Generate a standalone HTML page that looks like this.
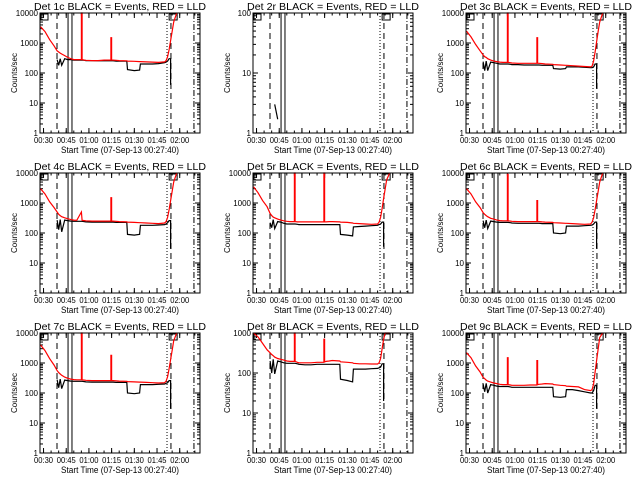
<!DOCTYPE html>
<html><head><meta charset="utf-8"><style>
body{margin:0;background:#fff}
svg{display:block}
text{font-family:"Liberation Sans",sans-serif;fill:#000}
</style></head><body>
<svg id="c" width="640" height="480" viewBox="0 0 640 480" xmlns="http://www.w3.org/2000/svg">
<rect width="640" height="480" fill="#fff"/>
</svg>
<script>
const times=[28,31,34,37,39,40,41,42,44,46,48,50,52,55,55.5,57,58,62,66,70,74.5,75,76,78,80,85,85.5,90,93.5,94,98,102,106,110,111,112,113,114,115,116,118];
const xTickLabels=["00:30","00:45","01:00","01:15","01:30","01:45","02:00"];
const xTickMinutes=[30,45,60,75,90,105,120];
const titles=["Det 1c","Det 2r","Det 3c","Det 4c","Det 5r","Det 6c","Det 7c","Det 8r","Det 9c"];
const decades=[4,2,4,4,4,4,4,3,4];
const vlineDashed1=38.9, vlineSolidA=46.2, vlineSolidB=48.8, vlineDotted=111.6, vlineDashed2=114.2, vlineDashDot=129.4;
const N=null;
const red1=[3500,2400,1300,800,550,500,460,430,380,330,300,280,280,12000,280,270,265,260,260,270,1500,270,270,265,260,255,250,245,240,240,235,230,225,235,260,350,600,1200,2500,5000,12000];
const black1=[N,N,N,N,280,180,300,180,300,280,280,270,270,270,270,265,260,260,255,255,255,255,255,250,250,250,130,120,125,200,200,200,205,220,230,250,300,40,N,N,N];
const red2=[N,N,N,N,N,N,N,N,N,N,N,N,N,N,N,N,N,N,N,N,N,N,N,N,N,N,N,N,N,N,N,N,N,N,N,N,N,N,N,N,N];
const black2=[N,N,N,N,N,N,N,3,1.7,N,N,N,N,N,N,N,N,N,N,N,N,N,N,N,N,N,N,N,N,N,N,N,N,N,N,N,N,N,N,N,N];
const red3=[2500,1600,900,550,400,350,330,300,270,250,240,230,225,12000,225,220,215,210,210,210,1500,210,210,205,200,195,190,185,180,180,175,170,165,160,170,250,500,1100,2500,5000,12000];
const black3=[N,N,N,N,240,120,250,120,230,220,210,200,200,200,200,195,190,190,185,185,185,185,185,180,180,180,140,135,140,160,160,160,155,150,150,160,200,30,N,N,N];
const red4=[3000,2000,1100,700,500,420,380,350,320,300,280,270,265,500,265,260,255,250,250,250,1500,250,250,245,240,235,230,225,220,220,215,210,205,215,240,330,600,1200,2500,5000,12000];
const black4=[N,N,N,N,270,130,280,110,270,260,250,245,245,245,245,240,235,230,230,230,230,230,230,225,225,225,90,85,90,180,180,180,185,190,200,220,260,30,N,N,N];
const red5=[3500,2200,1200,750,450,380,340,320,290,270,255,245,240,12000,240,235,235,235,235,235,12000,235,235,240,240,235,230,225,215,210,205,200,195,200,230,330,650,1400,3000,6000,12000];
const black5=[N,N,N,N,220,150,280,140,240,230,210,200,200,200,200,195,190,190,190,190,190,190,190,190,190,190,90,85,80,160,165,170,175,180,190,200,230,35,N,N,N];
const red6=[3000,2000,1100,700,480,420,380,350,310,290,270,260,255,9000,255,250,245,240,240,240,1200,240,240,235,230,225,220,215,210,210,205,200,195,200,230,320,600,1200,2500,5000,12000];
const black6=[N,N,N,N,260,150,270,140,250,240,230,225,225,225,225,220,215,210,210,210,210,210,210,205,205,205,100,95,100,170,170,170,175,180,185,200,230,30,N,N,N];
const red7=[4000,2600,1400,850,560,480,430,390,340,310,290,280,275,12000,275,270,265,260,260,260,1800,260,260,255,250,245,240,235,230,230,225,220,215,220,250,350,650,1300,2700,5500,12000];
const black7=[N,N,N,N,280,150,290,140,270,260,250,245,245,245,245,240,235,230,230,230,230,230,230,225,225,225,100,95,100,190,190,190,195,200,210,220,260,30,N,N,N];
const red8=[1100,800,550,380,320,290,270,250,230,220,210,200,195,1100,195,185,180,180,180,185,700,190,195,200,205,200,190,185,180,175,170,170,168,168,180,230,400,700,1000,1200,1200];
const black8=[N,N,N,N,200,100,220,95,200,190,180,175,175,175,175,170,165,160,160,165,165,165,165,165,165,165,70,65,60,125,125,125,128,130,135,140,170,20,N,N,N];
const red9=[2200,1500,800,500,330,300,270,250,230,215,205,195,190,1500,190,185,180,180,180,185,1200,190,195,200,205,200,190,180,175,170,165,160,130,120,130,200,500,1200,3000,7000,12000];
const black9=[N,N,N,N,200,110,210,100,190,180,170,165,165,165,165,160,155,155,155,155,155,155,155,155,155,155,75,72,75,130,130,120,110,100,100,120,180,30,N,N,N];
const reds=[red1,red2,red3,red4,red5,red6,red7,red8,red9];
const blacks=[black1,black2,black3,black4,black5,black6,black7,black8,black9];

const svg=document.getElementById('c');
const NS='http://www.w3.org/2000/svg';
function mk(tag,attrs,parent){const e=document.createElementNS(NS,tag);for(const k in attrs)e.setAttribute(k,attrs[k]);(parent||svg).appendChild(e);return e;}
const T0=27.667, T1=133.4, W=160, H=120;
const lefts=[40,253,466], tops=[13,173,333];

for(let p=0;p<9;p++){
  const L=lefts[p%3], Tp=tops[Math.floor(p/3)], D=decades[p];
  const g=mk('g',{});
  
  
  const xs=t=>L+(t-T0)/(T1-T0)*W;
  const ys=v=>Tp+H-Math.log10(Math.max(v,1))/D*H;
  const tt=mk('text',{x:L+W/2,y:Tp-3,'font-size':'10','text-anchor':'middle',textLength:'172',lengthAdjust:'spacingAndGlyphs'},g);
  tt.textContent=titles[p]+" BLACK = Events, RED = LLD";
  
  
  const yl=mk('text',{x:0,y:0,'font-size':'8','text-anchor':'middle',transform:`translate(${L-23},${Tp+H/2}) rotate(-90)`},g);
  yl.textContent="Counts/sec";
  
  
  const xl=mk('text',{x:L+W/2,y:Tp+H+20,'font-size':'9','text-anchor':'middle',textLength:'118',lengthAdjust:'spacingAndGlyphs'},g);
  xl.textContent="Start Time (07-Sep-13 00:27:40)";
  
  
  for(let d=0;d<=D;d++){
    const y=Tp+H-d/D*H;
    const lb=mk('text',{x:L-2,y:y+3,'font-size':'8','text-anchor':'end'},g);
    lb.textContent=String(Math.pow(10,d));
    
    
    mk('line',{x1:L,x2:L+5,y1:y,y2:y,stroke:'#000'},g);
    mk('line',{x1:L+W-5,x2:L+W,y1:y,y2:y,stroke:'#000'},g);
    if(d<D)for(let m=2;m<10;m++){const ym=ys(Math.pow(10,d)*m);
      mk('line',{x1:L,x2:L+3,y1:ym,y2:ym,stroke:'#000'},g);
      mk('line',{x1:L+W-3,x2:L+W,y1:ym,y2:ym,stroke:'#000'},g);}
  }
  for(let i=0;i<xTickMinutes.length;i++){
    const x=xs(xTickMinutes[i]);
    mk('line',{x1:x,x2:x,y1:Tp+H,y2:Tp+H-5,stroke:'#000'},g);
    mk('line',{x1:x,x2:x,y1:Tp,y2:Tp+5,stroke:'#000'},g);
    const lb=mk('text',{x:x,y:Tp+H+10,'font-size':'8','text-anchor':'middle',textLength:'19',lengthAdjust:'spacingAndGlyphs'},g);
    lb.textContent=xTickLabels[i];
    
    
  }
  for(let m=30;m<=130;m+=5){const x=xs(m);if(x<L||x>L+W)continue;
    mk('line',{x1:x,x2:x,y1:Tp+H,y2:Tp+H-2.5,stroke:'#000'},g);
    mk('line',{x1:x,x2:x,y1:Tp,y2:Tp+2.5,stroke:'#000'},g);}
  const vl=(t,dash,w)=>{const x=xs(t);const e=mk('line',{x1:x,x2:x,y1:Tp,y2:Tp+H,stroke:'#000','stroke-width':w||1},g);if(dash)e.setAttribute('stroke-dasharray',dash);return e;};
  const v1=vl(vlineDashed1,'6,4');
  vl(vlineSolidA,null);vl(vlineSolidB,null);
  vl(vlineDotted,'1,2');vl(vlineDashed2,'6,4');vl(vlineDashDot,'6,2,1,2');
  mk('rect',{x:L+1,y:Tp+1,width:7,height:6,fill:'none',stroke:'#000'},g);
  mk('rect',{x:xs(113),y:Tp+1,width:8,height:6,fill:'none',stroke:'#000'},g);
  const draw=(arr,color,name)=>{
    let d='',pen=false,pv=null,py=0;
    for(let i=0;i<times.length;i++){const v=arr[i];
      if(v===null){pen=false;continue;}
      const x=xs(times[i]),y=Math.max(ys(v),Tp);
      if(pen&&Math.abs(Math.log10(v/pv))>0.45){d+='L'+x.toFixed(1)+','+py.toFixed(1);}
      d+=(pen?'L':'M')+x.toFixed(1)+','+y.toFixed(1);pen=true;pv=v;py=y;}
    if(!d)return;
    const e=mk('path',{d:d,fill:'none',stroke:color,'stroke-width':1.2},g);
    
    
  };
  draw(blacks[p],'#000','events-line');
  draw(reds[p],'#ff0000','lld-line');
  const fr=mk('rect',{x:L,y:Tp,width:W,height:H,fill:'none',stroke:'#000'},g);
  
  
}
</script>
</body></html>
